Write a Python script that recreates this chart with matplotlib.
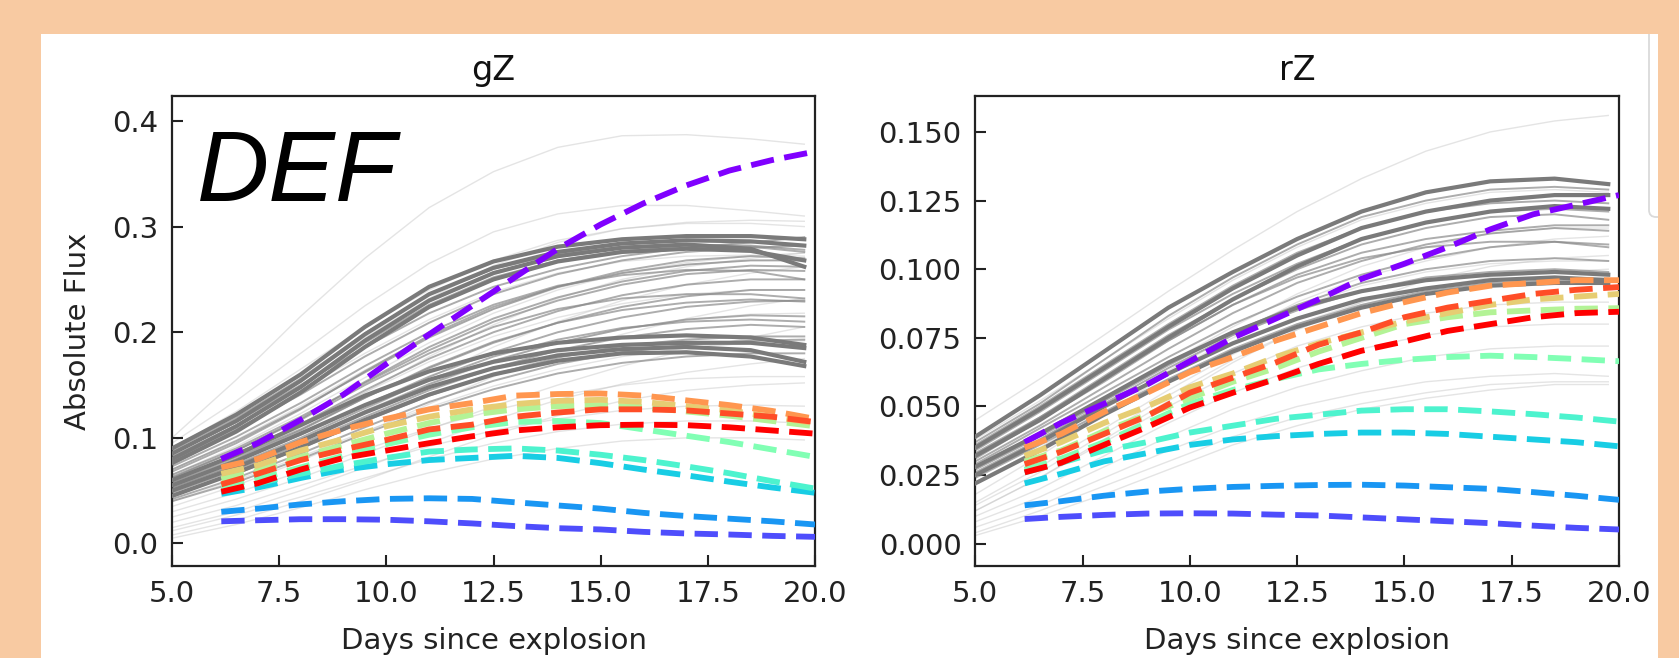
import numpy as np
import matplotlib
matplotlib.use("Agg")
import matplotlib.pyplot as plt
from matplotlib.patches import Rectangle, FancyBboxPatch
from matplotlib.transforms import IdentityTransform

W, H, DPI = 1679, 658, 100
PEACH = "#F8CAA2"

# ---------------------------------------------------------------------------
# Observed light curves (grey), sampled on a common day grid
# ---------------------------------------------------------------------------
obs_days = [5, 6.5, 8, 9.5, 11, 12.5, 14, 15.5, 17, 18.5, 19.75]

# gZ band
gz_bold = [
    [0.090, 0.122, 0.160, 0.205, 0.243, 0.267, 0.281, 0.288, 0.291, 0.291, 0.288],
    [0.085, 0.116, 0.154, 0.198, 0.236, 0.261, 0.276, 0.284, 0.287, 0.286, 0.282],
    [0.080, 0.111, 0.148, 0.192, 0.230, 0.256, 0.272, 0.280, 0.283, 0.279, 0.262],
    [0.076, 0.106, 0.143, 0.186, 0.224, 0.250, 0.267, 0.276, 0.279, 0.277, 0.268],
    [0.060, 0.084, 0.112, 0.140, 0.163, 0.180, 0.190, 0.195, 0.197, 0.195, 0.188],
    [0.055, 0.078, 0.104, 0.131, 0.155, 0.172, 0.183, 0.188, 0.190, 0.190, 0.185],
    [0.050, 0.072, 0.097, 0.124, 0.148, 0.166, 0.178, 0.184, 0.186, 0.183, 0.172],
    [0.045, 0.067, 0.091, 0.117, 0.141, 0.160, 0.173, 0.180, 0.181, 0.177, 0.168],
]
gz_mid = [
    [0.088, 0.119, 0.156, 0.199, 0.236, 0.260, 0.274, 0.281, 0.283, 0.282, 0.278],
    [0.085, 0.115, 0.150, 0.186, 0.218, 0.243, 0.260, 0.272, 0.280, 0.285, 0.290],
    [0.082, 0.112, 0.148, 0.190, 0.226, 0.252, 0.268, 0.277, 0.281, 0.281, 0.276],
    [0.078, 0.108, 0.141, 0.177, 0.209, 0.236, 0.255, 0.268, 0.276, 0.280, 0.282],
    [0.073, 0.101, 0.133, 0.168, 0.200, 0.226, 0.244, 0.254, 0.259, 0.258, 0.250],
    [0.070, 0.097, 0.128, 0.162, 0.195, 0.222, 0.243, 0.258, 0.268, 0.272, 0.270],
    [0.068, 0.095, 0.127, 0.163, 0.197, 0.224, 0.243, 0.256, 0.264, 0.268, 0.268],
    [0.065, 0.090, 0.120, 0.152, 0.183, 0.210, 0.230, 0.245, 0.255, 0.259, 0.258],
    [0.063, 0.088, 0.118, 0.153, 0.186, 0.213, 0.233, 0.248, 0.258, 0.263, 0.262],
    [0.062, 0.088, 0.117, 0.150, 0.180, 0.205, 0.222, 0.232, 0.236, 0.236, 0.232],
    [0.060, 0.085, 0.113, 0.145, 0.175, 0.200, 0.220, 0.235, 0.245, 0.250, 0.250],
    [0.058, 0.082, 0.108, 0.138, 0.166, 0.190, 0.209, 0.224, 0.234, 0.240, 0.240],
    [0.057, 0.080, 0.107, 0.138, 0.167, 0.191, 0.209, 0.221, 0.228, 0.231, 0.229],
    [0.055, 0.078, 0.103, 0.131, 0.158, 0.181, 0.200, 0.214, 0.224, 0.229, 0.230],
    [0.053, 0.075, 0.100, 0.128, 0.155, 0.177, 0.193, 0.204, 0.210, 0.212, 0.210],
    [0.052, 0.074, 0.098, 0.125, 0.151, 0.173, 0.190, 0.203, 0.212, 0.216, 0.215],
    [0.048, 0.070, 0.094, 0.120, 0.145, 0.166, 0.183, 0.195, 0.203, 0.207, 0.205],
    [0.046, 0.066, 0.090, 0.116, 0.140, 0.160, 0.176, 0.187, 0.193, 0.196, 0.196],
    [0.042, 0.062, 0.085, 0.110, 0.134, 0.154, 0.170, 0.181, 0.188, 0.192, 0.193],
    [0.040, 0.058, 0.080, 0.104, 0.127, 0.146, 0.161, 0.171, 0.177, 0.180, 0.180],
]
gz_faint = [
    [0.100, 0.155, 0.215, 0.270, 0.318, 0.352, 0.375, 0.386, 0.387, 0.383, 0.378],
    [0.095, 0.135, 0.180, 0.225, 0.265, 0.295, 0.312, 0.320, 0.320, 0.315, 0.310],
    [0.090, 0.125, 0.165, 0.205, 0.240, 0.268, 0.287, 0.298, 0.303, 0.303, 0.300],
    [0.085, 0.118, 0.155, 0.195, 0.232, 0.263, 0.285, 0.298, 0.304, 0.306, 0.305],
    [0.080, 0.110, 0.145, 0.180, 0.212, 0.238, 0.256, 0.267, 0.272, 0.273, 0.272],
    [0.070, 0.098, 0.130, 0.164, 0.196, 0.222, 0.242, 0.256, 0.264, 0.268, 0.268],
    [0.065, 0.092, 0.123, 0.157, 0.190, 0.218, 0.240, 0.256, 0.266, 0.272, 0.275],
    [0.060, 0.085, 0.113, 0.143, 0.172, 0.196, 0.214, 0.227, 0.236, 0.240, 0.240],
    [0.055, 0.080, 0.110, 0.143, 0.177, 0.207, 0.232, 0.250, 0.262, 0.270, 0.275],
    [0.050, 0.072, 0.097, 0.124, 0.150, 0.172, 0.190, 0.203, 0.212, 0.217, 0.218],
    [0.045, 0.068, 0.095, 0.126, 0.157, 0.186, 0.210, 0.230, 0.245, 0.256, 0.262],
    [0.040, 0.060, 0.082, 0.106, 0.129, 0.149, 0.165, 0.177, 0.185, 0.190, 0.192],
    [0.035, 0.055, 0.078, 0.105, 0.132, 0.158, 0.180, 0.198, 0.213, 0.225, 0.232],
    [0.030, 0.048, 0.068, 0.089, 0.109, 0.126, 0.140, 0.150, 0.156, 0.158, 0.158],
    [0.025, 0.042, 0.062, 0.085, 0.108, 0.130, 0.150, 0.168, 0.183, 0.195, 0.205],
    [0.020, 0.036, 0.055, 0.074, 0.092, 0.107, 0.118, 0.126, 0.130, 0.131, 0.130],
    [0.015, 0.030, 0.050, 0.072, 0.095, 0.117, 0.136, 0.151, 0.162, 0.170, 0.175],
    [0.012, 0.027, 0.044, 0.062, 0.080, 0.095, 0.106, 0.113, 0.116, 0.116, 0.114],
    [0.008, 0.022, 0.040, 0.060, 0.082, 0.103, 0.121, 0.135, 0.145, 0.150, 0.152],
    [0.005, 0.018, 0.034, 0.051, 0.067, 0.080, 0.090, 0.097, 0.100, 0.100, 0.098],
]

# rZ band
rz_bold = [
    [0.039, 0.054, 0.070, 0.086, 0.099, 0.111, 0.121, 0.128, 0.132, 0.133, 0.131],
    [0.035, 0.049, 0.064, 0.079, 0.093, 0.105, 0.115, 0.121, 0.125, 0.127, 0.127],
    [0.032, 0.045, 0.060, 0.075, 0.089, 0.101, 0.111, 0.117, 0.121, 0.123, 0.122],
    [0.028, 0.040, 0.053, 0.066, 0.077, 0.086, 0.092, 0.096, 0.098, 0.099, 0.098],
    [0.025, 0.037, 0.050, 0.062, 0.073, 0.082, 0.089, 0.093, 0.096, 0.097, 0.096],
    [0.022, 0.034, 0.047, 0.059, 0.070, 0.079, 0.086, 0.091, 0.094, 0.095, 0.095],
]
rz_mid = [
    [0.037, 0.051, 0.067, 0.083, 0.097, 0.109, 0.119, 0.125, 0.129, 0.130, 0.129],
    [0.036, 0.050, 0.065, 0.080, 0.094, 0.106, 0.115, 0.121, 0.124, 0.125, 0.124],
    [0.034, 0.048, 0.063, 0.078, 0.091, 0.102, 0.111, 0.117, 0.121, 0.122, 0.121],
    [0.033, 0.046, 0.061, 0.076, 0.089, 0.100, 0.109, 0.115, 0.119, 0.120, 0.118],
    [0.032, 0.046, 0.060, 0.074, 0.087, 0.097, 0.104, 0.108, 0.110, 0.110, 0.108],
    [0.031, 0.045, 0.059, 0.074, 0.087, 0.098, 0.106, 0.111, 0.114, 0.116, 0.116],
    [0.030, 0.043, 0.057, 0.071, 0.084, 0.095, 0.103, 0.109, 0.113, 0.115, 0.114],
    [0.029, 0.042, 0.055, 0.068, 0.080, 0.090, 0.098, 0.104, 0.108, 0.110, 0.109],
    [0.027, 0.039, 0.052, 0.065, 0.077, 0.087, 0.095, 0.100, 0.103, 0.104, 0.103],
    [0.026, 0.038, 0.051, 0.064, 0.076, 0.085, 0.092, 0.097, 0.099, 0.100, 0.099],
    [0.024, 0.036, 0.048, 0.060, 0.071, 0.080, 0.087, 0.092, 0.095, 0.096, 0.096],
]
rz_faint = [
    [0.045, 0.060, 0.076, 0.092, 0.107, 0.121, 0.133, 0.143, 0.150, 0.154, 0.156],
    [0.038, 0.052, 0.067, 0.082, 0.096, 0.108, 0.118, 0.124, 0.128, 0.129, 0.128],
    [0.025, 0.038, 0.052, 0.066, 0.079, 0.091, 0.101, 0.108, 0.113, 0.115, 0.115],
    [0.022, 0.035, 0.049, 0.063, 0.076, 0.088, 0.097, 0.103, 0.108, 0.111, 0.112],
    [0.018, 0.032, 0.047, 0.062, 0.075, 0.086, 0.094, 0.099, 0.102, 0.103, 0.103],
    [0.012, 0.024, 0.038, 0.052, 0.066, 0.078, 0.088, 0.096, 0.101, 0.104, 0.105],
    [0.014, 0.026, 0.040, 0.054, 0.067, 0.078, 0.087, 0.093, 0.097, 0.099, 0.100],
    [0.015, 0.028, 0.042, 0.056, 0.069, 0.080, 0.088, 0.093, 0.096, 0.097, 0.097],
    [0.012, 0.024, 0.037, 0.050, 0.062, 0.072, 0.079, 0.084, 0.087, 0.088, 0.088],
    [0.010, 0.020, 0.032, 0.044, 0.055, 0.064, 0.071, 0.076, 0.079, 0.080, 0.080],
    [0.008, 0.017, 0.028, 0.039, 0.049, 0.057, 0.063, 0.068, 0.071, 0.072, 0.072],
    [0.006, 0.014, 0.024, 0.034, 0.043, 0.050, 0.055, 0.059, 0.061, 0.062, 0.061],
    [0.004, 0.012, 0.021, 0.030, 0.039, 0.046, 0.051, 0.055, 0.058, 0.059, 0.059],
    [0.003, 0.010, 0.018, 0.027, 0.036, 0.043, 0.049, 0.053, 0.056, 0.058, 0.058],
]

# ---------------------------------------------------------------------------
# Model light curves (dashed), ordered along the rainbow colour map
# ---------------------------------------------------------------------------
model_days = [6.15, 7, 8, 9, 10, 11, 12, 13, 14, 15, 16, 17, 18, 19, 20]

gz_models = [
    [0.080, 0.095, 0.117, 0.141, 0.170, 0.198, 0.225, 0.252, 0.279, 0.302, 0.322, 0.339, 0.353, 0.363, 0.371],
    [0.021, 0.022, 0.023, 0.023, 0.0225, 0.021, 0.019, 0.0165, 0.0145, 0.0133, 0.011, 0.0095, 0.0085, 0.0072, 0.0063],
    [0.030, 0.033, 0.037, 0.040, 0.0422, 0.0428, 0.0422, 0.039, 0.036, 0.033, 0.029, 0.026, 0.0235, 0.021, 0.018],
    [0.047, 0.053, 0.062, 0.070, 0.075, 0.079, 0.081, 0.083, 0.081, 0.076, 0.070, 0.0645, 0.0585, 0.053, 0.048],
    [0.050, 0.057, 0.066, 0.074, 0.081, 0.087, 0.089, 0.090, 0.088, 0.084, 0.079, 0.073, 0.0665, 0.059, 0.052],
    [0.054, 0.061, 0.072, 0.083, 0.094, 0.103, 0.110, 0.115, 0.116, 0.114, 0.108, 0.102, 0.096, 0.089, 0.082],
    [0.061, 0.069, 0.082, 0.093, 0.104, 0.114, 0.122, 0.127, 0.130, 0.131, 0.129, 0.125, 0.121, 0.116, 0.111],
    [0.066, 0.074, 0.088, 0.099, 0.111, 0.120, 0.127, 0.132, 0.135, 0.136, 0.134, 0.130, 0.126, 0.120, 0.114],
    [0.072, 0.080, 0.096, 0.108, 0.118, 0.127, 0.133, 0.140, 0.1415, 0.142, 0.140, 0.1355, 0.131, 0.1255, 0.118],
    [0.056, 0.066, 0.079, 0.089, 0.098, 0.108, 0.1125, 0.120, 0.124, 0.127, 0.127, 0.126, 0.123, 0.120, 0.115],
    [0.049, 0.057, 0.070, 0.081, 0.088, 0.095, 0.1015, 0.107, 0.110, 0.112, 0.1125, 0.112, 0.110, 0.107, 0.104],
]

rz_models = [
    [0.037, 0.044, 0.051, 0.058, 0.0665, 0.075, 0.082, 0.089, 0.0965, 0.102, 0.108, 0.1145, 0.120, 0.1235, 0.127],
    [0.009, 0.0098, 0.0105, 0.011, 0.0111, 0.011, 0.0106, 0.0103, 0.0096, 0.0089, 0.0082, 0.0075, 0.0066, 0.0058, 0.0052],
    [0.014, 0.0155, 0.0175, 0.019, 0.020, 0.0207, 0.0211, 0.0214, 0.0215, 0.0212, 0.0206, 0.020, 0.0188, 0.0175, 0.016],
    [0.022, 0.0255, 0.030, 0.033, 0.036, 0.038, 0.0392, 0.040, 0.0405, 0.0405, 0.040, 0.039, 0.038, 0.037, 0.0355],
    [0.026, 0.0295, 0.034, 0.037, 0.0405, 0.043, 0.0455, 0.047, 0.0485, 0.049, 0.049, 0.0482, 0.0472, 0.046, 0.0445],
    [0.027, 0.031, 0.037, 0.044, 0.051, 0.056, 0.060, 0.0635, 0.0655, 0.067, 0.068, 0.0685, 0.068, 0.0673, 0.0665],
    [0.030, 0.034, 0.041, 0.047, 0.053, 0.059, 0.064, 0.070, 0.075, 0.080, 0.0825, 0.0843, 0.085, 0.0856, 0.0858],
    [0.032, 0.037, 0.044, 0.050, 0.057, 0.062, 0.068, 0.073, 0.077, 0.081, 0.084, 0.087, 0.089, 0.090, 0.091],
    [0.035, 0.040, 0.048, 0.055, 0.0625, 0.068, 0.074, 0.079, 0.084, 0.088, 0.0915, 0.094, 0.095, 0.096, 0.096],
    [0.029, 0.0335, 0.040, 0.0465, 0.055, 0.0605, 0.066, 0.0725, 0.077, 0.0825, 0.086, 0.0885, 0.091, 0.0925, 0.0935],
    [0.026, 0.0295, 0.036, 0.0425, 0.0496, 0.0550, 0.060, 0.0655, 0.0703, 0.0737, 0.0775, 0.080, 0.0825, 0.084, 0.0845],
]

x_ticks = [5.0, 7.5, 10.0, 12.5, 15.0, 17.5, 20.0]
gz_yticks = [0.0, 0.1, 0.2, 0.3, 0.4]
rz_yticks = [0.000, 0.025, 0.050, 0.075, 0.100, 0.125, 0.150]

# ---------------------------------------------------------------------------
fig = plt.figure(figsize=(W / DPI, H / DPI), dpi=DPI, facecolor=PEACH)

panel = Rectangle((41 / W, 0), (1658 - 41) / W, (658 - 34) / H,
                  transform=fig.transFigure, facecolor="white",
                  edgecolor="none", zorder=-3)
fig.patches.append(panel)

# thin scroll gutter at the right edge of the white panel
gutter = FancyBboxPatch((1649, H - 217), 26, 200,
                        boxstyle="round,pad=0,rounding_size=7",
                        transform=IdentityTransform(), facecolor="white",
                        edgecolor="#dadada", lw=1.3, zorder=-2)
gutter.set_clip_path(panel)
fig.patches.append(gutter)

ax_bottom = (H - 566) / H
ax_height = (566 - 95.7) / H
ax_g = fig.add_axes([172 / W, ax_bottom, 643 / W, ax_height])
ax_r = fig.add_axes([975.3 / W, ax_bottom, 643.7 / W, ax_height])


def draw_panel(ax, faint, mid, bold, models, title, yticks, fmt, ylim):
    for c in faint:
        ax.plot(obs_days, c, color="#c4c4c4", lw=1.0, alpha=0.45, zorder=1)
    for c in mid:
        ax.plot(obs_days, c, color="#8a8a8a", lw=1.4, alpha=0.7, zorder=2)
    for c in bold:
        ax.plot(obs_days, c, color="#7a7a7a", lw=3.0, zorder=3)
    colors = plt.cm.rainbow(np.linspace(0, 1, len(models)))
    for c, col in zip(models, colors):
        ax.plot(model_days, c, color=col, lw=4.2, dashes=(4.0, 1.8), zorder=4)

    ax.set_xlim(5, 20)
    ax.set_ylim(*ylim)
    ax.set_xticks(x_ticks)
    ax.set_xticklabels([f"{v:.1f}" for v in x_ticks])
    ax.set_yticks(yticks)
    ax.set_yticklabels([fmt.format(v) for v in yticks])
    ax.tick_params(direction="in", length=8, width=1.5, labelsize=21,
                   pad=10, labelcolor="#222222", color="#222222")
    for s in ax.spines.values():
        s.set_linewidth(1.6)
        s.set_color("#222222")
    ax.set_title(title, fontsize=24, pad=11, color="#111111")
    ax.set_xlabel("Days since explosion", fontsize=21, labelpad=14,
                  color="#222222")


draw_panel(ax_g, gz_faint, gz_mid, gz_bold, gz_models, "gZ",
           gz_yticks, "{:.1f}", (-0.0213, 0.4239))
draw_panel(ax_r, rz_faint, rz_mid, rz_bold, rz_models, "rZ",
           rz_yticks, "{:.3f}", (-0.0081, 0.1632))

ax_g.set_ylabel("Absolute Flux", fontsize=21, labelpad=14, color="#222222")

fig.text(197 / W, (H - 200.7) / H, "DEF", fontsize=72, fontstyle="italic",
         family=["Liberation Sans", "DejaVu Sans"], color="black",
         ha="left", va="baseline", zorder=10)

fig.savefig("out.png", dpi=DPI, facecolor=PEACH)
